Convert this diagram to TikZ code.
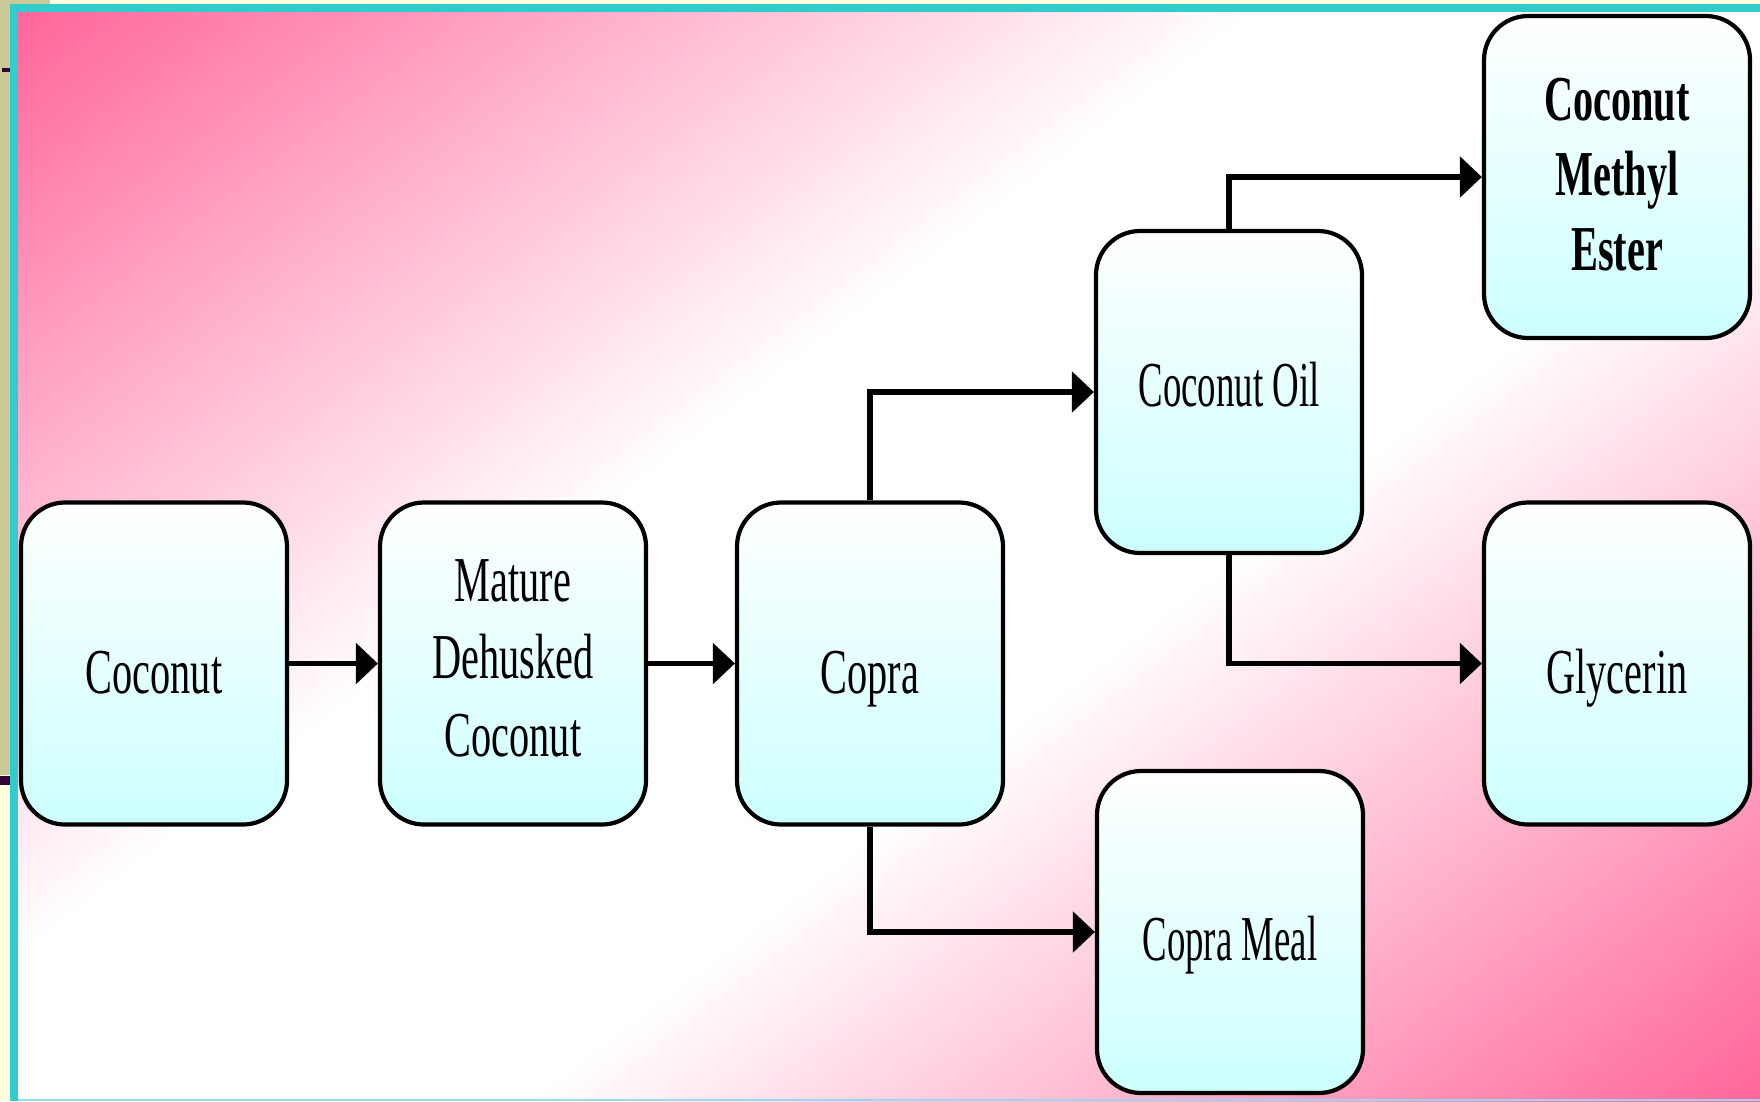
\documentclass[tikz,border=0pt]{standalone}
\usepackage{fontspec}
\setmainfont{Liberation Serif}
\newfontfamily\condfont[FakeStretch=0.63]{Liberation Serif}
\newfontfamily\condfontn[FakeStretch=0.575]{Liberation Serif}
\usetikzlibrary{arrows.meta}
\definecolor{pinkc}{RGB}{255,102,153}
\definecolor{cyanfill}{RGB}{204,255,255}
\definecolor{lightyel}{RGB}{255,255,221}
\definecolor{beige}{RGB}{204,201,153}
\definecolor{darkmark}{RGB}{51,0,51}
\definecolor{bordercyan}{RGB}{51,204,204}
\definecolor{bottomline}{RGB}{150,220,230}
% background: pink at top-left and bottom-right corners, white band between
\pgfdeclarefunctionalshading{bgpink}{\pgfpoint{0bp}{0bp}}{\pgfpoint{100bp}{100bp}}{}{
  0.45 mul exch 0.55 mul exch sub 20 add 50 div
  dup 0.39 div 1 exch sub dup abs add 2 div
  exch 0.61 sub 0.39 div dup abs add 2 div
  add
  dup 0.6 mul 1 exch sub
  exch 0.4 mul 1 exch sub
  1 3 1 roll
}
\newcommand{\lowstrut}[1]{\rule[-#1]{0pt}{0pt}}
\tikzset{
  box/.style={draw=black, line width=4.2pt, rounded corners=44pt,
    minimum width=266pt, minimum height=322pt, top color=white,
    bottom color=cyanfill, inner sep=0pt, align=center,
    font=\condfont\fontsize{64}{77.5}\selectfont},
  narrowtext/.style={font=\condfontn\fontsize{64}{77.5}\selectfont},
  conn/.style={draw=black, line width=5.5pt, -{Triangle[length=22pt,width=40pt]}},
}
\begin{document}
\begin{tikzpicture}[x=1pt,y=-1pt]
\useasboundingbox (0,0) rectangle (1760,1101);
\fill[lightyel] (0,0) rectangle (1760,1101);
\fill[beige] (0,0) rectangle (10,775);
\fill[beige] (0,0) rectangle (50,4);
\fill[darkmark] (2,68) rectangle (10,72);
\fill[darkmark] (0,776) rectangle (10,785);
\fill[bordercyan] (10,4) rectangle (1760,12);
\fill[bordercyan] (10,4) rectangle (18,1101);
\shade[shading=bgpink] (18,12) rectangle (1760,1101);
\fill[bottomline] (18,1098.5) rectangle (1760,1101);

\node[box, text height=60pt, text depth=0pt] (coconut) at (154,663.5) {Coconut};
\node[box] (mdc) at (513,663.5) {Mature\\Dehusked\\Coconut\lowstrut{11pt}};
\node[box, text height=60pt, text depth=0pt] (copra) at (870,663.5) {Copra};
\node[box, narrowtext, text height=28pt, text depth=0pt] (coil) at (1229,392) {Coconut Oil};
\node[box, narrowtext, text height=56pt, text depth=0pt] (cmeal) at (1230,932) {Copra Meal};
\node[box, font=\condfont\bfseries\fontsize{64}{75}\selectfont] (cme) at (1617,177) {Coconut\\Methyl\\Ester\lowstrut{6pt}};
\node[box, text height=60pt, text depth=0pt] (glyc) at (1617,663.5) {Glycerin};

\draw[conn] (coconut.east) -- (mdc.west);
\draw[conn] (mdc.east) -- (copra.west);
\draw[conn] (copra.north) |- (coil.west);
\draw[conn] (copra.south) |- (cmeal.west);
\draw[conn] (coil.north) |- (cme.west);
\draw[conn] (coil.south) |- (glyc.west);
\end{tikzpicture}
\end{document}
